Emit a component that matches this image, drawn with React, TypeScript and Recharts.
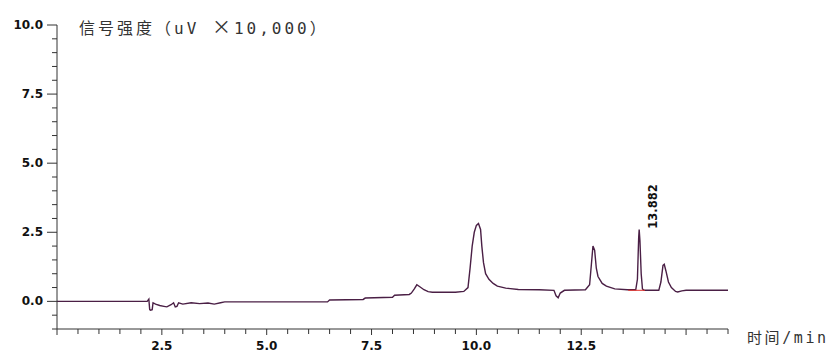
import React from "react";
import { Line, LineChart, XAxis, YAxis } from "recharts";

// retention time (min) and signal (uV x10,000)
const times = [
  0, 2.15, 2.19, 2.21, 2.23, 2.27, 2.29, 2.35, 2.45, 2.55, 2.62, 2.72, 2.78, 2.82, 2.86, 2.9, 3.0, 3.2, 3.4,
  3.6, 3.75, 3.9, 4.0, 6.45, 6.5, 7.3, 7.35, 8.0, 8.05, 8.4, 8.45, 8.52, 8.58, 8.66, 8.75, 8.85, 8.95, 9.5,
  9.7, 9.8, 9.85, 9.9, 9.95, 10.0, 10.05, 10.1, 10.13, 10.17, 10.22, 10.3, 10.4, 10.5, 10.7, 11.0, 11.5,
  11.85, 11.9, 11.95, 12.0, 12.1, 12.6, 12.7, 12.74, 12.78, 12.82, 12.86, 12.9, 13.0, 13.1, 13.3, 13.6,
  13.8, 13.84, 13.87, 13.882, 13.9, 13.93, 13.96, 14.0, 14.35, 14.4, 14.45, 14.48, 14.52, 14.58, 14.65,
  14.75, 14.8, 14.9, 15.0, 16.0,
];
const signal = [
  0, 0, 0.08, -0.3, -0.32, -0.3, -0.05, -0.1, -0.15, -0.18, -0.2, -0.12, -0.05, -0.2, -0.18, -0.05, -0.1,
  -0.05, -0.08, -0.06, -0.1, -0.05, -0.02, -0.02, 0.05, 0.07, 0.12, 0.15, 0.22, 0.25, 0.3, 0.45, 0.6, 0.52,
  0.42, 0.35, 0.33, 0.33, 0.36, 0.5, 1.2, 2.0, 2.5, 2.75, 2.82, 2.6, 2.0, 1.4, 1.0, 0.8, 0.65, 0.55, 0.48,
  0.43, 0.42, 0.4, 0.2, 0.13, 0.3, 0.4, 0.42, 0.6, 1.3, 2.0, 1.85, 1.2, 0.9, 0.65, 0.55, 0.45, 0.42, 0.42,
  0.8, 2.3, 2.6, 2.2, 1.0, 0.45, 0.4, 0.4, 0.7, 1.3, 1.34, 1.1, 0.7, 0.5, 0.36, 0.34, 0.38, 0.4, 0.4,
];
const chartData = times.map((t, i) => ({ t, v: signal[i] }));

// integration baseline under the labelled peak
const baseTimes = [13.62, 14.02];
const baseValues = [0.4, 0.4];
const baseData = baseTimes.map((t, i) => ({ t, v: baseValues[i] }));

const peakTime = 13.882;
const peakLabel = "13.882";

const xTicks = Array.from({ length: 33 }, (_, i) => i * 0.5);
const xLabels: Record<string, string> = { "2.5": "2.5", "5": "5.0", "7.5": "7.5", "10": "10.0", "12.5": "12.5" };
const yTicks = Array.from({ length: 23 }, (_, i) => -1 + i * 0.5);
const yLabels: Record<string, string> = { "0": "0.0", "2.5": "2.5", "5": "5.0", "7.5": "7.5", "10": "10.0" };

const tickFont = { fontFamily: "'DejaVu Sans', sans-serif", fontWeight: 700, fontSize: 12, fill: "#111" };
const axisColor = "#333";

function XTick(props: any) {
  const { x, y, payload } = props;
  const label = xLabels[String(payload.value)];
  const major = Math.abs(payload.value % 2.5) < 1e-6;
  return (
    <g>
      <line x1={x} y1={y} x2={x} y2={y + (major ? 6 : 5)} stroke={axisColor} />
      {label && (
        <text x={x} y={y + 21} textAnchor="middle" {...tickFont}>
          {label}
        </text>
      )}
    </g>
  );
}

function YTick(props: any) {
  const { x, y, payload } = props;
  const label = yLabels[String(payload.value)];
  return (
    <g>
      <line x1={x - (label ? 10 : 5)} y1={y} x2={x} y2={y} stroke={axisColor} />
      {label && (
        <text x={x - 14} y={y + 4} textAnchor="end" {...tickFont}>
          {label}
        </text>
      )}
    </g>
  );
}

function PeakLabel(props: any) {
  const { x, y, index } = props;
  if (chartData[index]?.t !== peakTime) return null;
  const tx = x + 14;
  const ty = y - 23;
  return (
    <text
      x={tx}
      y={ty}
      transform={`rotate(-90 ${tx} ${ty})`}
      textAnchor="middle"
      dominantBaseline="central"
      {...tickFont}
      fontSize={11.5}
    >
      {peakLabel}
    </text>
  );
}

const textStyle: React.CSSProperties = {
  position: "absolute",
  fontFamily: "'DejaVu Sans Mono', 'Noto Sans CJK SC', monospace",
  color: "#333",
  whiteSpace: "nowrap",
  lineHeight: 1,
};

export default function App() {
  return (
    <div style={{ position: "absolute", left: 0, top: 0, width: 833, height: 352, background: "#fff", overflow: "hidden" }}>
      <LineChart width={833} height={352} data={chartData} margin={{ top: 25, right: 105, left: 0, bottom: 0 }}>
        <XAxis
          type="number"
          dataKey="t"
          domain={[0, 16]}
          ticks={xTicks}
          interval={0}
          height={23}
          tickSize={0}
          tickMargin={0}
          tickLine={false}
          axisLine={{ stroke: axisColor }}
          tick={<XTick />}
          allowDataOverflow
        />
        <YAxis
          type="number"
          domain={[-1, 10]}
          ticks={yTicks}
          interval={0}
          width={57}
          tickSize={0}
          tickMargin={0}
          tickLine={false}
          axisLine={{ stroke: axisColor }}
          tick={<YTick />}
          allowDataOverflow
        />
        <Line
          dataKey="v"
          type="linear"
          stroke="#4a1f45"
          strokeWidth={1.4}
          dot={false}
          isAnimationActive={false}
          label={<PeakLabel />}
        />
        <Line
          data={baseData}
          dataKey="v"
          stroke="#e0302a"
          strokeWidth={1}
          dot={false}
          isAnimationActive={false}
        />
      </LineChart>
      <div style={{ ...textStyle, left: 79, top: 16, fontSize: 16, letterSpacing: 3 }}>
        信号强度（uV <span style={{ fontFamily: "'Noto Sans CJK SC'", fontSize: 19 }}>×</span>10,000）
      </div>
      <div style={{ ...textStyle, left: 747, top: 331, fontSize: 15, letterSpacing: 2.6 }}>时间/min</div>
    </div>
  );
}
